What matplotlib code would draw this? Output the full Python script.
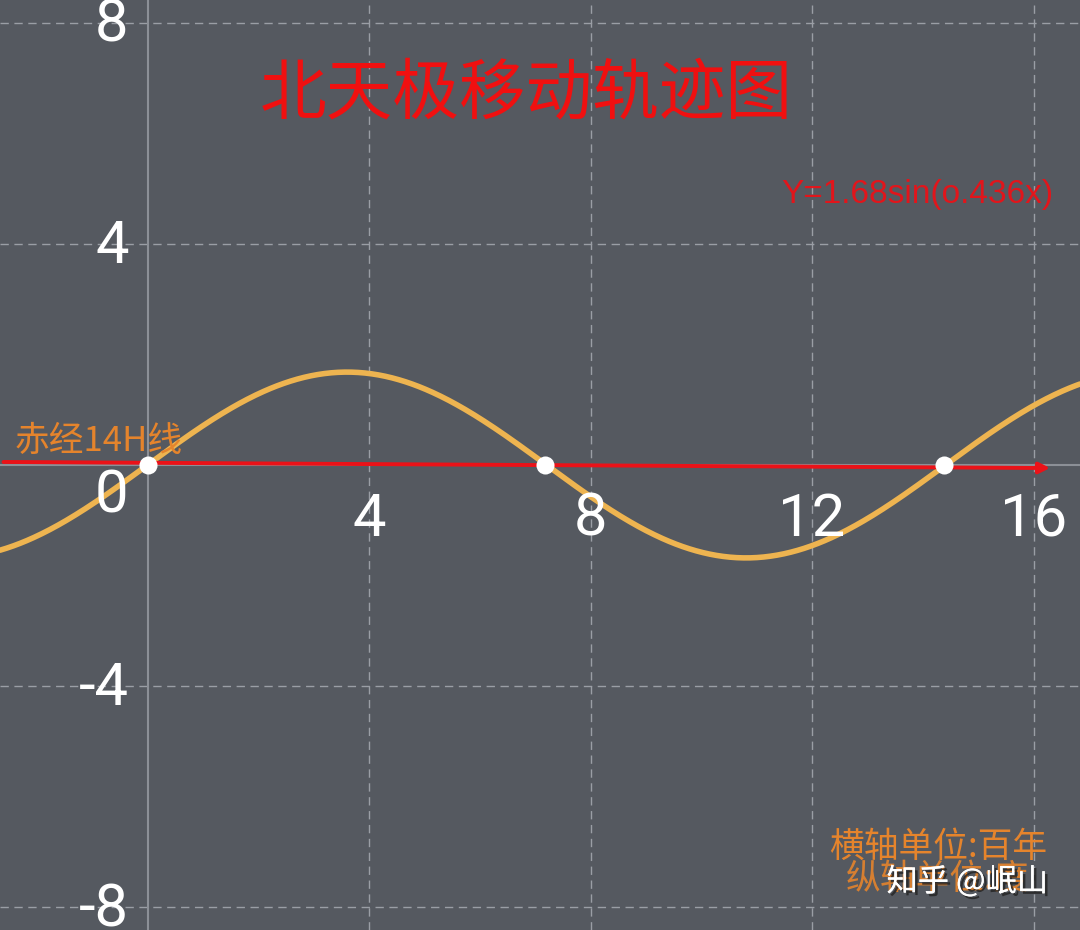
import numpy as np
import matplotlib
matplotlib.use("Agg")
import matplotlib.pyplot as plt
import matplotlib.patheffects as pe

plt.rcParams['font.family'] = ['Noto Sans CJK SC', 'DejaVu Sans']

# ---- data ----
amplitude = 1.68
frequency = 0.436
x_ticks = [4, 8, 12, 16]
y_ticks = [8, 4, -4, -8]
grid_x = [4, 8, 12, 16]
grid_y = [8, 4, -4, -8]
zero_points_x = [0.0, 7.18, 14.38]
zero_points_y = [0.0, 0.0, 0.0]
ra_line_x = [-2.6, 16.3]
ra_line_y = [0.055, -0.055]
title = "北天极移动轨迹图"
formula = "Y=1.68sin(o.436x)"
ra_label = "赤经14H线"
unit_lines = ["横轴单位:百年", "纵轴单位:度"]
watermark = "知乎 @岷山"

# ---- style ----
bg = '#555960'
grid_col = '#9a9ea5'
axis_col = '#8c9097'
curve_col = '#eeb450'
red = '#ea1218'
orange = '#e5842c'

fig = plt.figure(figsize=(10.8, 9.3), dpi=100)
fig.patch.set_facecolor(bg)
ax = fig.add_axes([0, 0, 1, 1])
ax.set_facecolor(bg)
ppu_x = 55.375
ppu_y = 55.3
ax.set_xlim(-147.5 / ppu_x, (1080 - 147.5) / ppu_x)
ax.set_ylim(-465 / ppu_y, 465 / ppu_y)
ax.set_axis_off()

# grid
for gx in grid_x:
    ax.axvline(gx, color=grid_col, lw=1, ls=(0, (6, 4)), zorder=1)
for gy in grid_y:
    ax.axhline(gy, color=grid_col, lw=1, ls=(0, (6, 4)), zorder=1)
# axes
ax.axvline(0, color=axis_col, lw=1.5, zorder=1.5)
ax.axhline(0, color=axis_col, lw=1.5, zorder=1.5)

# curve
xs = np.linspace(ax.get_xlim()[0], ax.get_xlim()[1], 800)
ax.plot(xs, amplitude * np.sin(frequency * xs), color=curve_col, lw=4.0,
        solid_capstyle='round', zorder=3)

# red RA line with arrow
ax.annotate('', xy=(ra_line_x[1], ra_line_y[1]), xytext=(ra_line_x[0], ra_line_y[0]),
            arrowprops=dict(arrowstyle='-|>', color=red, lw=2.8,
                            mutation_scale=16, shrinkA=0, shrinkB=0), zorder=4)

# white dots
ax.plot(zero_points_x, zero_points_y, 'o', color='white', ms=13, mec='none', zorder=5)

# tick labels
tick_font = dict(family=['Roboto', 'DejaVu Sans'], color='white', fontsize=43)
for t in y_ticks:
    ax.text(-0.34, t - 0.04, str(t), ha='right', va='center', zorder=6, **tick_font)
ax.text(-0.34, -0.56, "0", ha='right', va='center', zorder=6, **tick_font)
for t in x_ticks:
    ax.text(t, -0.98, str(t), ha='center', va='center', zorder=6, **tick_font)

# texts (positions in pixel fractions of figure)
fig.text(526 / 1080, 1 - 96 / 930, title, color='#f01010', fontsize=48,
         ha='center', va='center', fontweight='light')
fig.text(1053 / 1080, 1 - 194 / 930, formula, color=red, fontsize=24,
         family=['Liberation Sans', 'DejaVu Sans'], ha='right', va='center', alpha=0.95)
fig.text(15 / 1080, 1 - 441 / 930, ra_label, color=orange, fontsize=25,
         ha='left', va='center')
fig.text(938 / 1080, 1 - 847 / 930, unit_lines[0], color=orange, fontsize=25,
         ha='center', va='center')
fig.text(938 / 1080, 1 - 879 / 930, unit_lines[1], color=orange, fontsize=25,
         ha='center', va='center', alpha=0.9)
fig.text(1048 / 1080, 1 - 882 / 930, watermark, color='white', fontsize=22.5,
         ha='right', va='center', fontweight='medium',
         path_effects=[pe.withSimplePatchShadow(offset=(2, -2), shadow_rgbFace='#222222', alpha=0.8),
                       pe.Normal()])

fig.savefig('out.png', dpi=100, facecolor=bg)
